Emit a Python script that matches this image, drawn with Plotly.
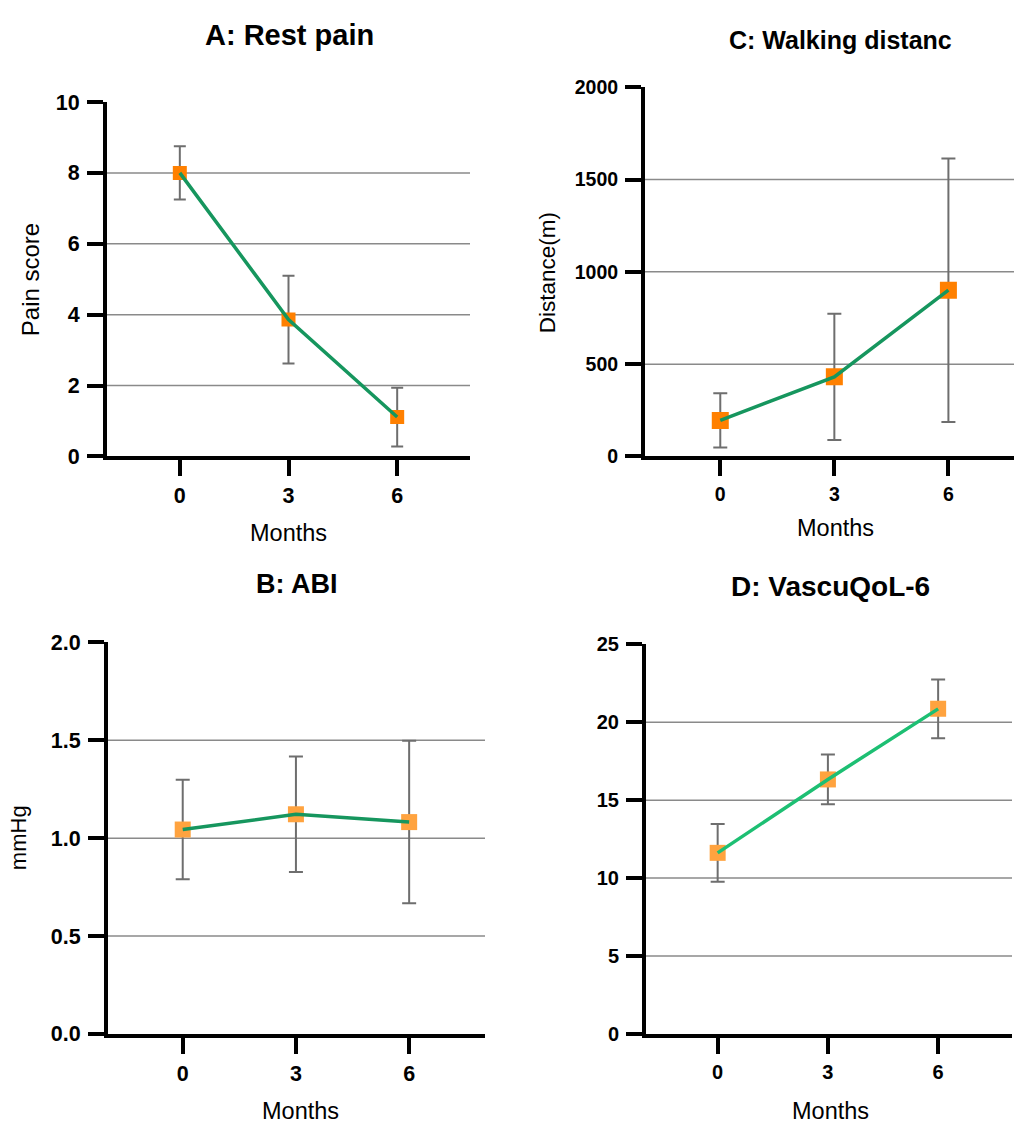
import plotly.graph_objects as go

# ---------------- data ----------------
months = ["0", "3", "6"]

rest_pain_mean = [8.0, 3.86, 1.11]
rest_pain_sd = [0.75, 1.24, 0.83]

walk_mean = [195, 431, 901]
walk_sd = [147, 342, 714]

abi_mean = [1.044, 1.122, 1.082]
abi_sd = [0.254, 0.295, 0.415]

qol_mean = [11.62, 16.33, 20.86]
qol_sd = [1.85, 1.60, 1.88]

# ---------------- layout helpers ----------------
W, H = 1014, 1136
FONT = "Liberation Sans, Arial, Helvetica, sans-serif"


def fx(p):
    return p / W


def fy(p):
    return 1 - p / H


panels = [
    dict(mean=rest_pain_mean, sd=rest_pain_sd, title="A: Rest pain", tsize=29,
         title_xy=(289, 25), ytitle="Pain score", ytitle_xy=(30, 275), ysize=24,
         months_xy=(288, 533), yrange=[0, 10], dtick=2, grid=[2, 4, 6, 8],
         xdom=(107, 470), ydom=(93, 455), xrange=[-0.67, 2.67],
         mcolor="#FF8000", msize=14, lcolor="#16965E", ewidth=6, tfs=21.5),
    dict(mean=walk_mean, sd=walk_sd, title="C: Walking distanc", tsize=25,
         title_xy=(840, 30), ytitle="Distance(m)", ytitle_xy=(547, 268), ysize=22.5,
         months_xy=(835, 528), yrange=[0, 2000], dtick=500, grid=[500, 1000, 1500],
         xdom=(645, 1014), ydom=(78, 455), xrange=[-0.66, 2.575],
         mcolor="#FF8000", msize=17, lcolor="#16965E", ewidth=7, tfs=19.5),
    dict(mean=abi_mean, sd=abi_sd, title="B: ABI", tsize=27,
         title_xy=(297, 585), ytitle="mmHg", ytitle_xy=(18, 845), ysize=22,
         months_xy=(300, 1124), yrange=[0, 2.0], dtick=0.5, grid=[0.5, 1.0, 1.5],
         xdom=(108, 485), ydom=(645, 1045), xrange=[-0.66, 2.67],
         mcolor="#FFA33F", msize=16, lcolor="#16965E", ewidth=7, tfs=21.5, tickformat=".1f"),
    dict(mean=qol_mean, sd=qol_sd, title="D: VascuQoL-6", tsize=28,
         title_xy=(830, 588), ytitle=None, ytitle_xy=None, ysize=22,
         months_xy=(830, 1124), yrange=[0, 25], dtick=5, grid=[5, 10, 15, 20],
         xdom=(646, 1012), ydom=(647, 1045), xrange=[-0.65, 2.67],
         mcolor="#FFA33F", msize=16, lcolor="#1DBF73", ewidth=7, tfs=20),
]

fig = go.Figure()
annotations = []
shapes = []

for i, p in enumerate(panels, start=1):
    sfx = "" if i == 1 else str(i)
    xa, ya = "x" + sfx, "y" + sfx

    # markers with error bars
    fig.add_trace(go.Scatter(
        x=months, y=p["mean"], xaxis=xa, yaxis=ya, mode="markers",
        marker=dict(symbol="square", size=p["msize"], color=p["mcolor"],
                    line=dict(width=0)),
        error_y=dict(type="data", array=p["sd"], visible=True,
                     color="#6E6E6E", thickness=2, width=p["ewidth"]),
        showlegend=False, hoverinfo="skip"))
    # connecting line drawn on top of the markers
    fig.add_trace(go.Scatter(
        x=months, y=p["mean"], xaxis=xa, yaxis=ya, mode="lines",
        line=dict(color=p["lcolor"], width=3.5),
        showlegend=False, hoverinfo="skip"))

    tickfont = dict(family=FONT, size=p["tfs"], color="black", weight="bold")
    fig.update_layout(**{
        ("xaxis" + sfx): dict(
            domain=[fx(p["xdom"][0]), fx(p["xdom"][1])], anchor=ya,
            type="category", range=p["xrange"], showgrid=False, zeroline=False,
            showline=True, linecolor="black", linewidth=4,
            ticks="outside", ticklen=16, tickwidth=4, tickcolor="black",
            tickfont=tickfont, ticklabelstandoff=1, fixedrange=True),
        ("yaxis" + sfx): dict(
            domain=[fy(p["ydom"][1]), fy(p["ydom"][0])], anchor=xa,
            range=p["yrange"], tick0=0, dtick=p["dtick"], showgrid=False,
            zeroline=False, showline=True, linecolor="black", linewidth=4,
            ticks="outside", ticklen=16, tickwidth=4, tickcolor="black",
            tickfont=tickfont, ticklabelstandoff=3, fixedrange=True,
            tickformat=p.get("tickformat", "")),
    })

    # interior gridlines
    for g in p["grid"]:
        shapes.append(dict(type="line", xref=xa + " domain", yref=ya,
                           x0=0, x1=1, y0=g, y1=g, layer="below",
                           line=dict(color="#8A8A8A", width=1.5)))

    # panel title, x-axis title, y-axis title
    annotations.append(dict(text="<b>%s</b>" % p["title"], xref="paper", yref="paper",
                            x=fx(p["title_xy"][0]), y=fy(p["title_xy"][1]),
                            xanchor="center", yanchor="middle", showarrow=False,
                            font=dict(family=FONT, size=p["tsize"], color="black")))
    annotations.append(dict(text="Months", xref="paper", yref="paper",
                            x=fx(p["months_xy"][0]), y=fy(p["months_xy"][1]),
                            xanchor="center", yanchor="middle", showarrow=False,
                            font=dict(family=FONT, size=23.5, color="black")))
    if p["ytitle"]:
        annotations.append(dict(text=p["ytitle"], xref="paper", yref="paper",
                                x=fx(p["ytitle_xy"][0]), y=fy(p["ytitle_xy"][1]),
                                xanchor="center", yanchor="middle", textangle=-90,
                                showarrow=False,
                                font=dict(family=FONT, size=p["ysize"], color="black")))

fig.update_layout(
    width=W, height=H, margin=dict(l=0, r=0, t=0, b=0),
    paper_bgcolor="white", plot_bgcolor="white",
    annotations=annotations, shapes=shapes, showlegend=False,
    font=dict(family=FONT, color="black"),
)

post = """
var st = document.createElement('style');
st.innerHTML = 'html,body{margin:0;padding:0;overflow:hidden;width:1014px;height:1136px;}'
  + '.plotly-graph-div{position:absolute !important;top:0;left:0;}';
document.head.appendChild(st);
"""

fig.write_html("out.html", config={"displayModeBar": False}, post_script=post)
